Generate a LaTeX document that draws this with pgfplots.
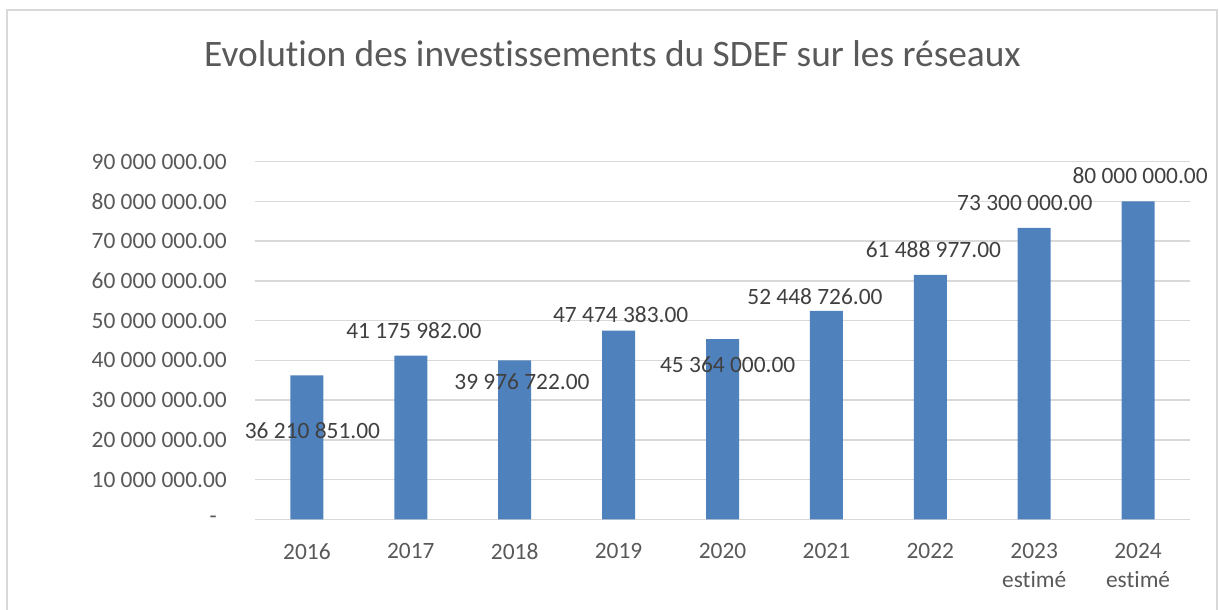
\documentclass[border=0pt]{standalone}
\usepackage{fontspec}
\setmainfont{Carlito}[Ligatures=NoCommon]
\usepackage{pgfplots}
\pgfplotsset{compat=1.18}
\definecolor{barblue}{HTML}{4F81BD}
\definecolor{txtgray}{HTML}{595959}
\definecolor{lblgray}{HTML}{404040}
\definecolor{gridgray}{HTML}{D9D9D9}
\tikzset{lbl/.style={font=\fontsize{23.5}{29}\selectfont, text=lblgray, inner sep=0pt, anchor=center}}

\begin{document}
\begin{tikzpicture}[x=1bp,y=1bp]
\useasboundingbox (-255,-90.5) rectangle (964,519.5);
\draw[gridgray, line width=1.5bp] (-248,-95) -- (-248,509.5) -- (962,509.5) -- (962,-95);
\node[anchor=base, font=\fontsize{37.5}{42}\selectfont, text=txtgray, inner sep=0pt] at (357.5,452.5) {Evolution des investissements du SDEF sur les réseaux};
\begin{axis}[
  at={(0,0)}, anchor=south west, scale only axis,
  width=935bp, height=358bp,
  xmin=-0.5, xmax=8.5, ymin=0, ymax=90000000,
  xtick={0,1,2,3,4,5,6,7,8},
  xticklabels={2016,2017,2018,2019,2020,2021,2022,{2023\\estimé},{2024\\estimé}},
  ytick={0,10000000,20000000,30000000,40000000,50000000,60000000,70000000,80000000,90000000},
  yticklabels={{-\kern10bp},{10 000 000.00},{20 000 000.00},{30 000 000.00},{40 000 000.00},{50 000 000.00},{60 000 000.00},{70 000 000.00},{80 000 000.00},{90 000 000.00}},
  scaled y ticks=false,
  ymajorgrids,
  grid style={gridgray, line width=1.5bp},
  axis line style={draw=none},
  major tick length=0pt,
  tick label style={font=\fontsize{23.5}{29}\selectfont, text=txtgray},
  xticklabel style={anchor=north, inner sep=0pt, yshift=-23.5bp, align=center},
  yticklabel style={anchor=east, inner sep=0pt, xshift=-28bp},
  /pgf/number format/assume math mode=true,
  clip=false,
]
\addplot[ybar, bar width=33bp, fill=barblue, draw=none] coordinates {
  (0,36210851) (1,41175982) (2,39976722) (3,47474383) (4,45364000)
  (5,52448726) (6,61488977) (7,73300000) (8,80000000)
};
\node[lbl] at (axis cs:0.053,22250000) {36 210 851.00};
\node[lbl] at (axis cs:1.03,47390000) {41 175 982.00};
\node[lbl] at (axis cs:2.07,34570000) {39 976 722.00};
\node[lbl] at (axis cs:3.02,51410000) {47 474 383.00};
\node[lbl] at (axis cs:4.05,38840000) {45 364 000.00};
\node[lbl] at (axis cs:4.89,55940000) {52 448 726.00};
\node[lbl] at (axis cs:6.03,67750000) {61 488 977.00};
\node[lbl] at (axis cs:6.91,79570000) {73 300 000.00};
\node[lbl] at (axis cs:8.02,86360000) {80 000 000.00};
\end{axis}
\end{tikzpicture}
\end{document}
